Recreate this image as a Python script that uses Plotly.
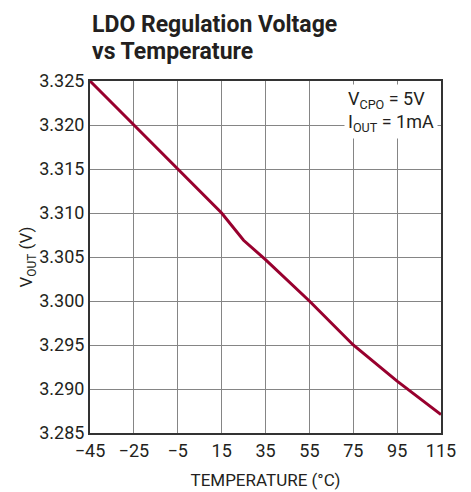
import plotly.graph_objects as go

temperature = [-45, -25, -5, 15, 25, 35, 55, 75, 95, 115]
vout = [3.325, 3.320, 3.315, 3.310, 3.3069, 3.3047, 3.3000, 3.2950, 3.2909, 3.2871]

x_ticks = [-45, -25, -5, 15, 35, 55, 75, 95, 115]
x_ticktext = ["\u221245", "\u221225", "\u22125", "15", "35", "55", "75", "95", "115"]
y_ticks = [3.285, 3.290, 3.295, 3.300, 3.305, 3.310, 3.315, 3.320, 3.325]
y_ticktext = ["3.285", "3.290", "3.295", "3.300", "3.305", "3.310", "3.315", "3.320", "3.325"]

title_lines = ["LDO Regulation Voltage", "vs Temperature"]

FONT = "Roboto, Liberation Sans, sans-serif"
INK = "#231f20"

fig = go.Figure()
fig.add_trace(go.Scatter(x=temperature, y=vout, mode="lines",
                         line=dict(color="#98002e", width=3), hoverinfo="skip"))

annotations = [
    dict(text="<b>%s</b>" % title_lines[0], xref="paper", yref="paper", x=0, y=1,
         xanchor="left", yanchor="middle", xshift=0, yshift=57, showarrow=False,
         font=dict(family=FONT, size=23, color=INK)),
    dict(text="<b>%s</b>" % title_lines[1], xref="paper", yref="paper", x=0, y=1,
         xanchor="left", yanchor="middle", xshift=0, yshift=30, showarrow=False,
         font=dict(family=FONT, size=23, color=INK)),
    dict(text="V<sub>CPO</sub> = 5V<br>I<sub>OUT</sub> = 1mA",
         xref="paper", yref="paper", x=1, y=1,
         xanchor="right", yanchor="top", align="left",
         xshift=-3, yshift=-3,
         showarrow=False, bgcolor="white", borderpad=3,
         font=dict(family=FONT, size=18, color=INK)),
]

fig.update_layout(
    width=471, height=492,
    margin=dict(l=82, r=38, t=73, b=67),
    paper_bgcolor="white", plot_bgcolor="white",
    showlegend=False,
    font=dict(family=FONT, size=18, color=INK),
    xaxis=dict(range=[-45, 115], tickvals=x_ticks, ticktext=x_ticktext,
               showgrid=True, gridcolor="#858585", gridwidth=1.2,
               showline=True, linecolor="#333333", linewidth=2, mirror=True,
               ticks="", zeroline=False,
               tickfont=dict(family=FONT, size=18, color=INK),
               title=dict(text="TEMPERATURE (°C)", standoff=15,
                          font=dict(family=FONT, size=17, color=INK))),
    yaxis=dict(range=[3.285, 3.325], tickvals=y_ticks, ticktext=y_ticktext,
               showgrid=True, gridcolor="#858585", gridwidth=1.2,
               showline=True, linecolor="#333333", linewidth=2, mirror=True,
               ticks="", zeroline=False,
               tickfont=dict(family=FONT, size=18, color=INK),
               title=dict(text="V<sub>OUT</sub> (V)", standoff=2,
                          font=dict(family=FONT, size=17, color=INK))),
    annotations=annotations,
)

fig.write_html("out.html")
